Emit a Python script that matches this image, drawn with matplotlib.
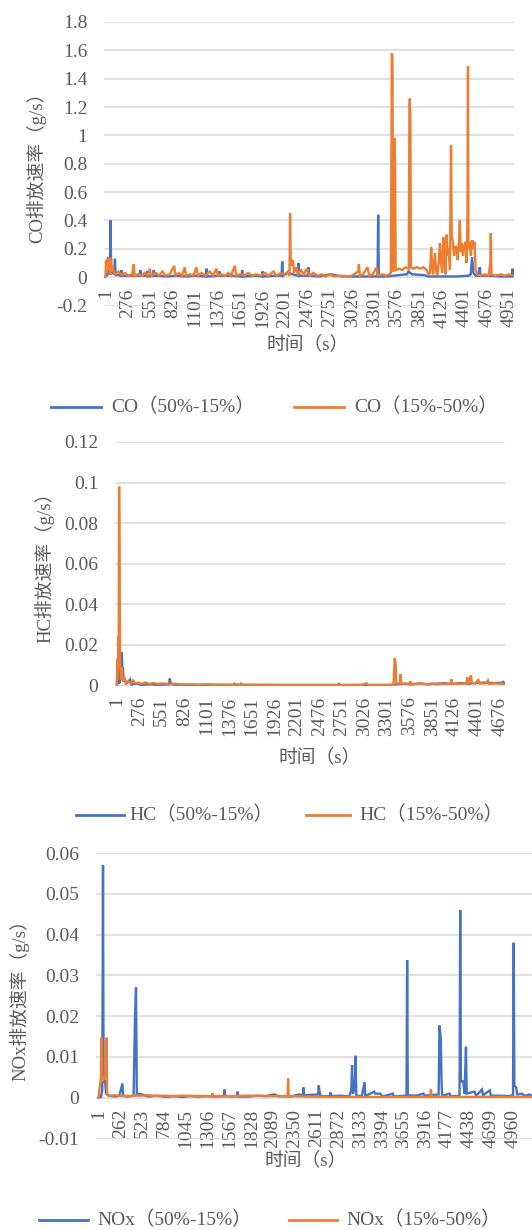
import matplotlib
matplotlib.use("Agg")
import matplotlib.pyplot as plt
from matplotlib.lines import Line2D

# ---------------- data (time index, emission rate g/s) ----------------
co_blue = [(1,0.005),(20,0.01),(34,0.14),(45,0.02),(56,0.03),(64,0.40),(72,0.02),(95,0.05),
           (110,0.02),(118,0.13),(126,0.01),(140,0.02),(185,0.01),(196,0.05),(207,0.01),(300,0.01),
           (420,0.01),(430,0.05),(440,0.01),(505,0.01),(513,0.04),(521,0.005),(585,0.01),(594,0.05),
           (603,0.01),(760,0.005),(860,0.01),(1000,0.005),(1100,0.01),(1233,0.005),(1241,0.06),
           (1249,0.005),(1390,0.01),(1400,0.04),(1410,0.01),(1560,0.01),(1670,0.005),(1678,0.05),
           (1686,0.005),(1850,0.01),(1920,0.005),(1928,0.04),(1936,0.005),(2090,0.01),(2160,0.01),
           (2169,0.11),(2178,0.01),(2240,0.03),(2361,0.01),(2369,0.10),(2377,0.01),(2480,0.01),
           (2490,0.07),(2500,0.01),(2620,0.005),(2760,0.02),(2900,0.005),(3100,0.005),(3250,0.005),
           (3337,0.005),(3345,0.44),(3353,0.005),(3450,0.005),(3600,0.015),(3700,0.02),(3715,0.04),
           (3760,0.02),(3900,0.015),(3960,0.005),(4100,0.005),(4300,0.005),(4450,0.01),(4480,0.02),
           (4496,0.14),(4512,0.03),(4540,0.01),(4575,0.01),(4590,0.07),(4600,0.01),(4700,0.01),
           (4850,0.005),(4984,0.005),(4992,0.06),(5000,0.01),(5010,0.005)]

co_orange = [(1,0.0),(10,0.12),(20,0.03),(30,0.13),(40,0.05),(50,0.14),(60,0.02),(70,0.13),(80,0.04),
             (90,0.08),(105,0.03),(130,0.02),(160,0.04),(200,0.015),(240,0.03),(280,0.01),(330,0.02),
             (348,0.09),(360,0.01),(400,0.02),(450,0.01),(480,0.03),(520,0.01),(545,0.06),(560,0.01),
             (620,0.03),(660,0.01),(700,0.04),(740,0.01),(790,0.02),(844,0.08),(860,0.01),(900,0.03),
             (940,0.01),(974,0.07),(990,0.01),(1040,0.02),(1080,0.01),(1118,0.07),(1135,0.01),
             (1180,0.03),(1230,0.01),(1280,0.04),(1320,0.01),(1364,0.06),(1380,0.01),(1420,0.02),
             (1470,0.01),(1510,0.03),(1540,0.01),(1588,0.08),(1605,0.01),(1650,0.02),(1700,0.01),
             (1750,0.03),(1800,0.01),(1850,0.02),(1900,0.01),(1960,0.03),(2000,0.01),(2060,0.04),
             (2100,0.01),(2150,0.03),(2200,0.02),(2240,0.04),(2258,0.01),(2265,0.45),(2272,0.14),
             (2285,0.08),(2300,0.12),(2315,0.03),(2340,0.07),(2360,0.02),(2400,0.05),(2430,0.02),
             (2470,0.06),(2500,0.01),(2550,0.03),(2600,0.01),(2650,0.02),(2700,0.005),(2750,0.02),
             (2800,0.005),(2900,0.01),(3000,0.005),(3050,0.02),(3100,0.04),(3109,0.09),(3120,0.01),
             (3160,0.02),(3215,0.07),(3235,0.01),(3280,0.02),(3326,0.07),(3340,0.01),(3400,0.02),
             (3440,0.01),(3480,0.02),(3500,0.03),(3505,0.5),(3512,1.58),(3520,1.55),(3528,0.04),
             (3536,0.9),(3545,0.98),(3552,0.8),(3560,0.05),(3600,0.06),(3640,0.05),(3680,0.07),
             (3720,0.06),(3728,1.2),(3733,1.26),(3740,1.1),(3746,0.07),(3780,0.06),(3820,0.07),
             (3860,0.06),(3900,0.07),(3940,0.05),(3960,0.02),(3980,0.03),(3995,0.21),(4005,0.08),
             (4020,0.02),(4040,0.17),(4055,0.05),(4070,0.01),(4090,0.12),(4102,0.24),(4115,0.1),
             (4130,0.03),(4143,0.28),(4155,0.12),(4170,0.02),(4184,0.3),(4198,0.15),(4210,0.2),
             (4225,0.05),(4238,0.93),(4246,0.3),(4260,0.25),(4275,0.15),(4290,0.22),(4308,0.2),
             (4320,0.12),(4335,0.25),(4346,0.4),(4358,0.18),(4370,0.24),(4385,0.15),(4400,0.22),
             (4418,0.25),(4430,0.1),(4440,0.45),(4446,1.49),(4452,0.2),(4465,0.25),(4480,0.15),
             (4500,0.26),(4513,0.2),(4525,0.25),(4540,0.05),(4560,0.02),(4600,0.01),(4650,0.02),
             (4700,0.01),(4720,0.1),(4726,0.31),(4733,0.02),(4780,0.01),(4850,0.02),(4900,0.01),
             (4950,0.02),(5010,0.01)]

hc_blue = [(1,0.0),(15,0.002),(25,0.012),(32,0.001),(45,0.004),(63,0.0164),(70,0.008),(78,0.009),
           (85,0.002),(100,0.003),(120,0.001),(165,0.003),(180,0.0005),(250,0.001),(300,0.0003),
           (400,0.0006),(500,0.0003),(600,0.0005),(640,0.0005),(649,0.0035),(660,0.001),(700,0.0004),
           (900,0.0003),(1200,0.0003),(1430,0.0003),(1440,0.0008),(1450,0.0003),(1510,0.0003),
           (1520,0.0008),(1530,0.0003),(2000,0.0002),(2700,0.0002),(2714,0.0007),(2725,0.0002),
           (3300,0.0002),(3400,0.0005),(3500,0.0008),(3600,0.0006),(3700,0.001),(3800,0.0006),
           (3900,0.0009),(4000,0.0011),(4100,0.0008),(4200,0.0012),(4300,0.0009),(4400,0.0013),
           (4500,0.0014),(4600,0.0012),(4700,0.0013),(4719,0.0018),(4740,0.001)]

hc_orange = [(1,0.0),(8,0.013),(14,0.003),(20,0.024),(25,0.02),(30,0.098),(36,0.06),(42,0.01),
             (50,0.007),(58,0.003),(66,0.009),(75,0.002),(90,0.004),(110,0.001),(140,0.002),
             (170,0.001),(200,0.0025),(230,0.001),(270,0.0015),(300,0.0008),(350,0.0015),(400,0.0008),
             (450,0.0012),(500,0.0008),(560,0.001),(650,0.0008),(700,0.0009),(800,0.0005),(900,0.0006),
             (1000,0.0004),(1100,0.0006),(1200,0.0004),(1500,0.0004),(2000,0.0003),(2500,0.0003),
             (3000,0.0003),(3050,0.0012),(3070,0.0003),(3380,0.0003),(3395,0.0135),(3405,0.011),
             (3415,0.001),(3460,0.001),(3466,0.0055),(3475,0.001),(3580,0.0008),(3586,0.002),
             (3595,0.0006),(3700,0.0008),(3800,0.0007),(3850,0.001),(3900,0.0006),(4000,0.0008),
             (4080,0.0008),(4086,0.003),(4095,0.0008),(4200,0.0008),(4270,0.001),(4280,0.004),
             (4290,0.001),(4326,0.005),(4335,0.0015),(4380,0.001),(4417,0.003),(4428,0.001),
             (4500,0.001),(4533,0.0025),(4545,0.0008),(4600,0.001),(4700,0.0008),(4740,0.0008)]

nox_blue = [(1,0.0),(20,0.0003),(30,0.0),(45,0.002),(54,0.057),(60,0.007),(70,0.004),(80,0.004),
            (90,0.001),(120,0.0005),(200,0.0003),(250,0.0005),(286,0.0035),(295,0.0005),(350,0.0003),
            (420,0.0005),(437,0.02),(449,0.027),(458,0.001),(520,0.0008),(600,0.0003),(700,0.0005),
            (800,0.0002),(900,0.0004),(1000,0.0002),(1100,0.0004),(1200,0.0003),(1300,0.0004),
            (1400,0.0003),(1500,0.0004),(1507,0.002),(1515,0.0004),(1600,0.0003),(1655,0.0004),
            (1662,0.0015),(1670,0.0003),(1800,0.0003),(1900,0.0005),(2000,0.0004),(2100,0.0008),
            (2150,0.0004),(2300,0.0003),(2400,0.0008),(2445,0.0006),(2452,0.0025),(2460,0.0006),
            (2550,0.0007),(2628,0.0008),(2635,0.003),(2645,0.0016),(2655,0.0004),(2770,0.0004),
            (2777,0.0013),(2785,0.0004),(2900,0.0005),(3000,0.0003),(3025,0.002),(3034,0.008),
            (3045,0.001),(3068,0.003),(3075,0.0103),(3085,0.0005),(3150,0.0004),(3184,0.0038),
            (3192,0.0004),(3298,0.0015),(3310,0.001),(3371,0.001),(3400,0.0003),(3522,0.001),
            (3530,0.0003),(3685,0.0005),(3693,0.0337),(3701,0.0006),(3800,0.0005),(3888,0.001),
            (3900,0.0005),(4070,0.0008),(4080,0.0177),(4096,0.0145),(4104,0.0045),(4112,0.0005),
            (4202,0.001),(4215,0.0003),(4320,0.0005),(4328,0.046),(4336,0.004),(4364,0.004),
            (4380,0.001),(4397,0.0125),(4405,0.001),(4499,0.0015),(4520,0.0005),(4589,0.002),
            (4600,0.0006),(4682,0.0018),(4695,0.0005),(4800,0.0005),(4900,0.0004),(4960,0.0006),
            (4968,0.038),(4976,0.003),(4998,0.0025),(5010,0.0008),(5068,0.001),(5100,0.0004),
            (5150,0.0008),(5187,0.0005)]

nox_orange = [(1,0.0),(10,0.002),(20,0.003),(28,0.005),(34,0.0145),(40,0.0145),(46,0.004),
              (60,0.005),(75,0.005),(85,0.006),(91,0.0145),(97,0.0145),(103,0.001),(130,0.0005),
              (200,0.0006),(300,0.0004),(400,0.0005),(500,0.0005),(600,0.0006),(700,0.0004),
              (800,0.0005),(900,0.0004),(1000,0.0005),(1200,0.0004),(1358,0.0004),(1365,0.0011),
              (1372,0.0004),(1600,0.0004),(1800,0.0005),(2000,0.0004),(2200,0.0004),(2262,0.0004),
              (2269,0.0047),(2276,0.0004),(2500,0.0003),(2800,0.0002),(3100,0.0002),(3500,0.0002),
              (3970,0.0002),(3978,0.002),(3986,0.0002),(4500,0.0002),(5187,0.0002)]

co_yticks = [1.8, 1.6, 1.4, 1.2, 1.0, 0.8, 0.6, 0.4, 0.2, 0.0, -0.2]
co_ylabels = ['1.8', '1.6', '1.4', '1.2', '1', '0.8', '0.6', '0.4', '0.2', '0', '-0.2']
hc_yticks = [0.12, 0.1, 0.08, 0.06, 0.04, 0.02, 0.0]
hc_ylabels = ['0.12', '0.1', '0.08', '0.06', '0.04', '0.02', '0']
nox_yticks = [0.06, 0.05, 0.04, 0.03, 0.02, 0.01, 0.0, -0.01]
nox_ylabels = ['0.06', '0.05', '0.04', '0.03', '0.02', '0.01', '0', '-0.01']
co_xticks = list(range(1, 5011, 275))
hc_xticks = list(range(1, 4741, 275))
nox_xticks = list(range(1, 5188, 261))

co_names = ['CO（50%-15%）', 'CO（15%-50%）']
hc_names = ['HC（50%-15%）', 'HC（15%-50%）']
nox_names = ['NOx（50%-15%）', 'NOx（15%-50%）']

# ---------------- styling ----------------
W, H = 532, 1230
fig = plt.figure(figsize=(W / 100, H / 100), dpi=100)
FAM = ['Liberation Serif', 'Noto Sans CJK SC', 'DejaVu Sans']
GRAY = '#595959'
GRID = '#d9d9d9'
BLUE = '#4472C4'
ORANGE = '#ED7D31'


def px_axes(l, r, t, b):
    return fig.add_axes([l / W, 1 - b / H, (r - l) / W, (b - t) / H])


def panel(box, xlim, ylim, yticks, ylabels, xticks, s_blue, s_orange, ylabel, ylab_xy, xlab_xy,
          names, leg):
    ax = px_axes(*box)
    for s in ax.spines.values():
        s.set_visible(False)
    ax.spines['bottom'].set_position(('data', 0))
    tb, vb = zip(*s_blue)
    to, vo = zip(*s_orange)
    ax.plot(tb, vb, color=BLUE, lw=1.7, solid_joinstyle='miter')
    ax.plot(to, vo, color=ORANGE, lw=1.7, solid_joinstyle='miter')
    ax.set_xlim(*xlim)
    ax.set_ylim(*ylim)
    ax.set_yticks(yticks)
    ax.set_yticklabels(ylabels)
    ax.set_xticks(xticks)
    ax.set_xticklabels([str(t) for t in xticks])
    ax.grid(axis='y', color=GRID, lw=1.1)
    ax.grid(axis='x', visible=False)
    ax.set_axisbelow(True)
    ax.tick_params(axis='both', length=0, labelsize=14, labelcolor=GRAY)
    ax.tick_params(axis='y', pad=12)
    ax.tick_params(axis='x', pad=8, labelrotation=90)
    for lab in ax.get_xticklabels() + ax.get_yticklabels():
        lab.set_family(FAM)
    for lab in ax.get_xticklabels():
        lab.set_rotation(90)
        lab.set_ha('center')
        lab.set_va('top')
    fig.text(ylab_xy[0] / W, 1 - ylab_xy[1] / H, ylabel, rotation=90, ha='center', va='center',
             fontsize=13.5, color=GRAY, family=FAM)
    fig.text(xlab_xy[0] / W, 1 - xlab_xy[1] / H, '时间（s）', ha='center', va='center',
             fontsize=13.5, color=GRAY, family=FAM)
    ly, (b0, b1, bt), (o0, o1, ot) = leg
    for (x0, x1, xt), col, name in (((b0, b1, bt), BLUE, names[0]), ((o0, o1, ot), ORANGE, names[1])):
        fig.add_artist(Line2D([x0 / W, x1 / W], [1 - ly / H, 1 - ly / H], color=col, lw=2.0,
                              transform=fig.transFigure))
        fig.text(xt / W, 1 - ly / H, name, ha='left', va='center', fontsize=14, color=GRAY,
                 family=FAM)
    return ax


panel((104, 514, 22, 305.5), (-16, 5010), (-0.2, 1.8), co_yticks, co_ylabels, co_xticks,
      co_blue, co_orange, 'CO排放速率（g/s）', (36, 163), (308, 344), co_names,
      (407, (51, 101, 111), (294, 344, 354)))

panel((115, 505, 442, 685.5), (-20, 4741), (0, 0.12), hc_yticks, hc_ylabels, hc_xticks,
      hc_blue, hc_orange, 'HC排放速率（g/s）', (44, 563), (320, 757), hc_names,
      (815, (76, 124, 129), (306, 350, 359)))

panel((96, 532, 853, 1138.5), (-30, 5187), (-0.01, 0.06), nox_yticks, nox_ylabels, nox_xticks,
      nox_blue, nox_orange, 'NOx排放速率（g/s）', (19, 996), (306, 1160), nox_names,
      (1220, (39, 88, 97), (289, 337, 346)))

fig.savefig('out.png', dpi=100, facecolor='white')
